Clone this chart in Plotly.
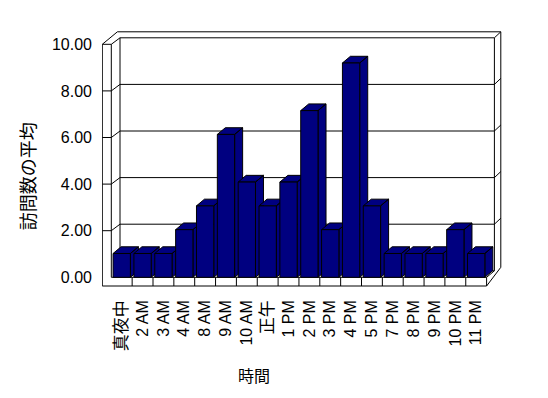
import plotly.graph_objects as go

# ---- data ----
categories = ["真夜中", "2 AM", "3 AM", "4 AM", "8 AM", "9 AM", "10 AM", "正午", "1 PM",
              "2 PM", "3 PM", "4 PM", "5 PM", "7 PM", "8 PM", "9 PM", "10 PM", "11 PM"]
values = [1, 1, 1, 2, 3, 6, 4, 3, 4, 7, 2, 9, 3, 1, 1, 1, 2, 1]
y_ticks = [0, 2, 4, 6, 8, 10]
y_title = "訪問数の平均"
x_title = "時間"

# ---- layout geometry (pixels) ----
W, H = 548, 398
PL, PR, PT, PB = 102, 502, 28, 287          # plot area in px
SX = 20.85                                   # px per category slot
X0PX = 111.3                                 # floor front left edge
SY = 23.3                                    # px per value unit (front plane)
Y0PX = 277.3                                 # value 0 on the front plane
K = 1.022                                    # perspective stretch of the bars

def fx(px):
    return (px - X0PX) / SX - 0.5

def fy(py):
    return (Y0PX - py) / SY

def py(v):
    return Y0PX - SY * v

x_range = [fx(PL), fx(PR)]
y_range = [fy(PB), fy(PT)]

NAVY = "#000080"
n = len(categories)
idx = list(range(n))

# frame points (px)
wall_out_x = 102.3
wall_in_x = X0PX
floor_r = X0PX + SX * n
top_front = py(max(y_ticks))
floor_bot = 286.0
dxl, dxr, dd = 8.7, 7.8, 6.5     # depth offset to back wall front face
btx, bty = 6.4, 6.0              # back wall thickness
bw_l, bw_r = wall_in_x + dxl, floor_r + dxr
bw_top, bw_bot = top_front - dd, Y0PX - dd

def path(pts, close=False):
    s = "M " + " L ".join(f"{fx(a):.5f},{fy(b):.5f}" for a, b in pts)
    return s + (" Z" if close else "")

shapes = []
line = dict(color="black", width=1)
# silhouette
shapes.append(dict(type="path", xref="x", yref="y", layer="below", fillcolor="white", line=line,
                   path=path([(wall_out_x, floor_bot), (wall_out_x, top_front),
                              (wall_out_x + dxl + btx, bw_top - bty), (bw_r + btx, bw_top - bty),
                              (bw_r + btx, bw_bot - bty + 2.5), (floor_r, floor_bot)], close=True)))
# back wall front face
shapes.append(dict(type="path", xref="x", yref="y", layer="below", fillcolor="white", line=line,
                   path=path([(bw_l, bw_bot), (bw_l, bw_top), (bw_r, bw_top), (bw_r, bw_bot)], close=True)))
# left wall inner edge, floor top edge, floor right edge
shapes.append(dict(type="path", xref="x", yref="y", layer="below", line=line,
                   path=path([(wall_in_x, top_front), (wall_in_x, Y0PX), (floor_r, Y0PX), (floor_r, floor_bot)])))
shapes.append(dict(type="path", xref="x", yref="y", layer="below", line=line,
                   path=path([(wall_out_x, top_front), (wall_in_x, top_front), (bw_l, bw_top)])))
shapes.append(dict(type="path", xref="x", yref="y", layer="below", line=line,
                   path=path([(bw_r, bw_top), (bw_r + btx, bw_top - bty)])))
shapes.append(dict(type="path", xref="x", yref="y", layer="below", line=line,
                   path=path([(floor_r, Y0PX), (bw_r, bw_bot)])))
# floor dividers
for i in range(1, n):
    xp = X0PX + SX * i
    shapes.append(dict(type="path", xref="x", yref="y", layer="below", line=line,
                       path=path([(xp, Y0PX), (xp, floor_bot)])))
# gridlines
for v in y_ticks[1:-1]:
    yy = py(v)
    shapes.append(dict(type="path", xref="x", yref="y", layer="below", line=line,
                       path=path([(wall_out_x, yy), (wall_in_x, yy), (bw_l, yy - dd),
                                  (bw_r, yy - dd), (bw_r + btx, yy - dd - bty)])))

fig = go.Figure()

# bar side and top faces (behind the front faces)
bw = 17.3 / SX
ddx = 8.0 / SX
ddy = 6.7 / (SY * K)
for i, v in zip(idx, values):
    x0, x1 = i - bw / 2, i + bw / 2
    xs = [x1, x1 + ddx, x1 + ddx, x1, x1, None, x0, x1, x1 + ddx, x0 + ddx, x0]
    ys = [0, ddy, v + ddy, v, 0, None, v, v, v + ddy, v + ddy, v]
    fig.add_trace(go.Scatter(x=xs, y=ys, xaxis="x", yaxis="y2", mode="lines", fill="toself",
                             fillcolor=NAVY, line=dict(color="black", width=1),
                             hoverinfo="skip", showlegend=False))

# bar front faces
fig.add_trace(go.Bar(x=idx, y=values, width=bw, xaxis="x", yaxis="y3",
                     marker=dict(color=NAVY, line=dict(color="black", width=1)),
                     showlegend=False))

pw, ph = PR - PL, PB - PT
def paper_x(px):
    return (px - PL) / pw

def paper_y(pyy):
    return (PB - pyy) / ph

ticktext = [c if c.isascii() else f'<span style="font-size:17px">{c}</span>' for c in categories]

fig.update_layout(
    width=W, height=H,
    margin=dict(l=PL, r=W - PR, t=PT, b=H - PB, pad=0),
    paper_bgcolor="white", plot_bgcolor="rgba(0,0,0,0)",
    font=dict(family="Liberation Sans, Noto Sans CJK JP", size=16, color="black"),
    shapes=shapes,
    showlegend=False,
    xaxis=dict(range=x_range, tickvals=idx, ticktext=ticktext, tickangle=-90,
               showgrid=False, zeroline=False, showline=False, ticks="",
               ticklabelstandoff=9, fixedrange=True),
    yaxis=dict(range=y_range, tickvals=y_ticks, tickformat=".2f",
               showgrid=False, zeroline=False, showline=False, ticks="",
               ticklabelstandoff=9, fixedrange=True),
    yaxis2=dict(overlaying="y", range=[r / K for r in y_range], visible=False, fixedrange=True),
    yaxis3=dict(overlaying="y", matches="y2", visible=False, fixedrange=True),
    annotations=[
        dict(text=y_title, xref="paper", yref="paper", x=paper_x(28.5), y=paper_y(176.7),
             textangle=-90, showarrow=False, font=dict(size=18), xanchor="center", yanchor="middle"),
        dict(text=x_title, xref="paper", yref="paper", x=paper_x(253.5), y=paper_y(376),
             showarrow=False, font=dict(size=16), xanchor="center", yanchor="middle"),
    ],
)

fig.write_html("out.html", config={"displayModeBar": False},
               post_script="document.body.style.margin='0';")
